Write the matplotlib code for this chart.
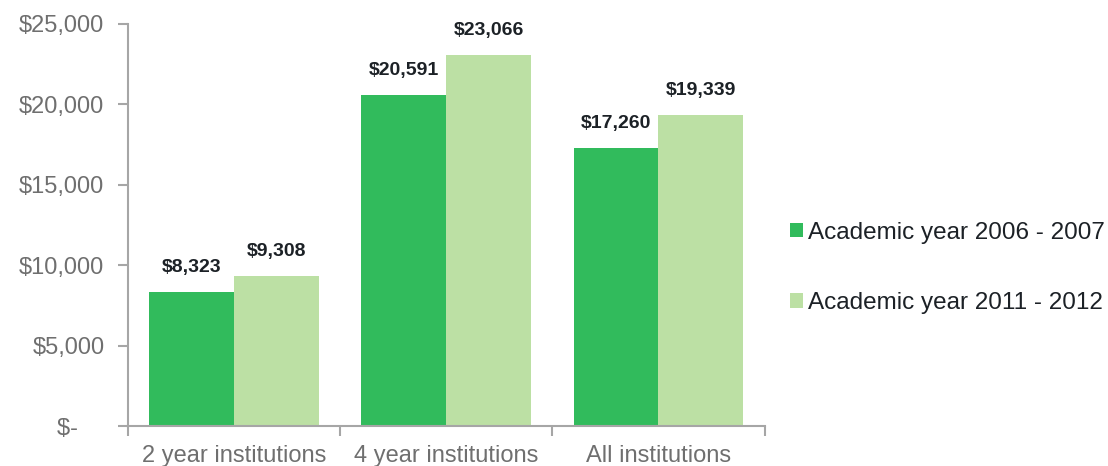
import matplotlib.pyplot as plt
import numpy as np

plt.rcParams['font.family'] = ['Liberation Sans', 'DejaVu Sans']

categories = ['2 year institutions', '4 year institutions', 'All institutions']
series_names = ['Academic year 2006 - 2007', 'Academic year 2011 - 2012']
values_2006 = [8323, 20591, 17260]
values_2011 = [9308, 23066, 19339]
y_ticks = [0, 5000, 10000, 15000, 20000, 25000]
y_tick_labels = ['$-    ', '$5,000', '$10,000', '$15,000', '$20,000', '$25,000']

colors = ['#31bb5c', '#bce0a4']
gray = '#a6a6a6'
dark = '#1c2126'

fig = plt.figure(figsize=(11.08, 4.66), dpi=100)
ax = fig.add_axes([0.1155, 0.0858, 0.5745, 0.8627])

x = np.arange(len(categories))
w = 0.4
bars1 = ax.bar(x - w / 2, values_2006, w, color=colors[0], label=series_names[0])
bars2 = ax.bar(x + w / 2, values_2011, w, color=colors[1], label=series_names[1])

for bars, vals in [(bars1, values_2006), (bars2, values_2011)]:
    for b, v in zip(bars, vals):
        ax.annotate('${:,}'.format(v), (b.get_x() + b.get_width() / 2, v),
                    xytext=(0, 11.5), textcoords='offset points',
                    ha='center', va='bottom', fontsize=14, fontweight='bold',
                    color=dark)

ax.set_xlim(-0.5, 2.5)
ax.set_ylim(0, 25000)
ax.set_yticks(y_ticks)
ax.set_yticklabels(y_tick_labels)
ax.set_xticks([-0.5, 0.5, 1.5, 2.5])
ax.set_xticklabels([])
ax.set_xticks(x, minor=True)
ax.set_xticklabels(categories, minor=True)
ax.tick_params(axis='x', which='minor', length=0, pad=14)
ax.tick_params(axis='x', which='major', length=7, color=gray, width=1.5)
ax.tick_params(axis='y', length=7, color=gray, width=1.5, pad=10)
ax.tick_params(axis='both', which='both', labelsize=17, labelcolor='#6f6f6f')

for s in ['top', 'right']:
    ax.spines[s].set_visible(False)
for s in ['left', 'bottom']:
    ax.spines[s].set_color(gray)
    ax.spines[s].set_linewidth(1.5)

fig.legend(loc='center left', bbox_to_anchor=(0.693, 0.425), frameon=False,
           fontsize=17.5, handlelength=0.55, handleheight=0.55, handletextpad=0.2,
           labelspacing=2.0, labelcolor=dark)

plt.savefig('out.png')
